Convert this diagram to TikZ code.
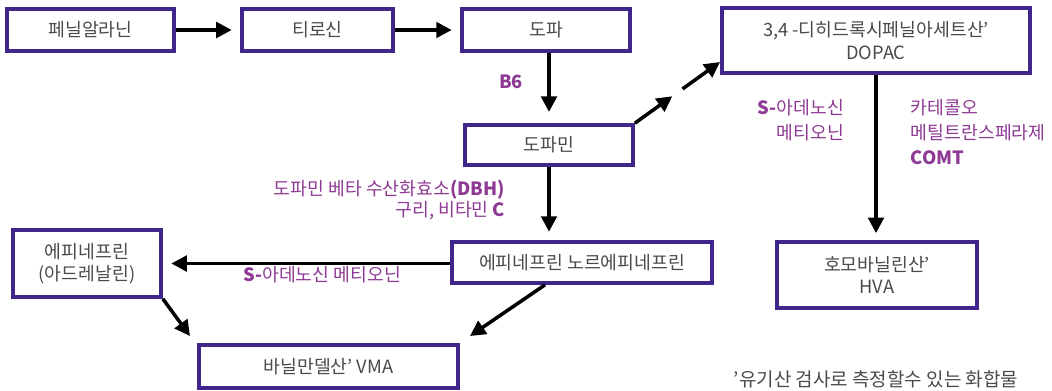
\documentclass[tikz,border=0pt]{standalone}
\usepackage{fontspec}
\setmainfont{Noto Sans CJK KR}
\usepackage{tikz}
\usetikzlibrary{arrows.meta,positioning,calc}
\definecolor{boxline}{HTML}{40268A}
\definecolor{enzyme}{HTML}{8E3A94}
\definecolor{boxtext}{HTML}{4A4A4A}

\begin{document}
\begin{tikzpicture}[x=0.025cm, y=-0.025cm,
  box/.style={draw=boxline, line width=2.6pt, fill=white, text=boxtext,
    align=center, inner sep=0pt, font=\fontsize{13}{16}\selectfont},
  flow/.style={line width=2.5pt, -{Triangle[length=11pt,width=11pt]}},
  enz/.style={text=enzyme, font=\fontsize{13}{17.5}\selectfont}]
\useasboundingbox (0,0) rectangle (1052,390);
% Boxes, top row
\node[box, minimum width=4.175cm, minimum height=1.05cm] (phe) at (90.5,30) {페닐알라닌};
\node[box, minimum width=3.775cm, minimum height=1.05cm] (tyr) at (317.5,30) {티로신};
\node[box, minimum width=4.2cm, minimum height=1.05cm] (dopa) at (546,30) {도파};
\node[box, minimum width=7.7cm, minimum height=1.625cm] (dopac) at (876,40.5) {3,4 -디히드록시페닐아세트산'\\DOPAC};
% Boxes, middle and bottom
\node[box, minimum width=4.2cm, minimum height=1.0cm] (dopamine) at (549,145) {도파민};
\node[box, minimum width=6.5cm, minimum height=1.025cm] (norepi) at (582,262.5) {에피네프린 노르에피네프린};
\node[box, minimum width=3.7cm, minimum height=1.675cm] (epi) at (87,263.5) {에피네프린\\(아드레날린)};
\node[box, minimum width=6.475cm, minimum height=1.075cm] (vma) at (328.5,366.5) {바닐만델산' VMA};
\node[box, minimum width=5cm, minimum height=1.65cm] (hva) at (877,275) {호모바닐린산'\\HVA};
% Free ends of arrows
\coordinate (dopac-in) at (720,62);
\coordinate (vma-left) at (190,336);
\coordinate (vma-right) at (470,336);
% Arrows
\draw[flow, shorten >=6pt] (phe) -- (tyr);
\draw[flow, shorten >=6pt] (tyr) -- (dopa);
\draw[flow, shorten >=8pt] (dopa.south -| dopamine.north) -- (dopamine.north);
\draw[flow] (dopamine.north east) -- ($(dopamine.north east)!0.44!(dopac-in)$);
\draw[flow] ($(dopamine.north east)!0.56!(dopac-in)$) -- (dopac-in);
\draw[flow, shorten >=6pt] (dopamine.south) -- (dopamine.south |- norepi.north);
\draw[flow, shorten >=6pt] (norepi.west |- epi.east) -- (epi.east);
\draw[flow] (epi.south east) -- (vma-left);
\draw[flow] ($(norepi.south)+(-37,0)$) -- (vma-right);
\draw[flow, shorten >=5pt] (dopac.south) -- (dopac.south |- hva.north);
% Enzyme and cofactor labels
\node[enz] (b6) at (511,82) {\textbf{B6}};
\node[enz, anchor=east] (dbh) at (510,190) {도파민 베타 수산화효소\textbf{(DBH)}};
\node[enz, anchor=east] (cu) at (510,211) {구리, 비타민 \textbf{C}};
\node[enz] (sam) at (322,275) {\textbf{S-}아데노신 메티오닌};
\node[enz, anchor=east, align=right] (sam2) at (849,120) {\textbf{S-}아데노신\\메티오닌};
\node[enz, anchor=west, align=left] (comt) at (906,132) {카테콜오\\메틸트란스페라제\\\textbf{COMT}};
% Footnote
\node[text=boxtext, font=\fontsize{13.5}{16}\selectfont] (note) at (876,379) {'유기산 검사로 측정할수 있는 화합물};
\end{tikzpicture}
\end{document}
